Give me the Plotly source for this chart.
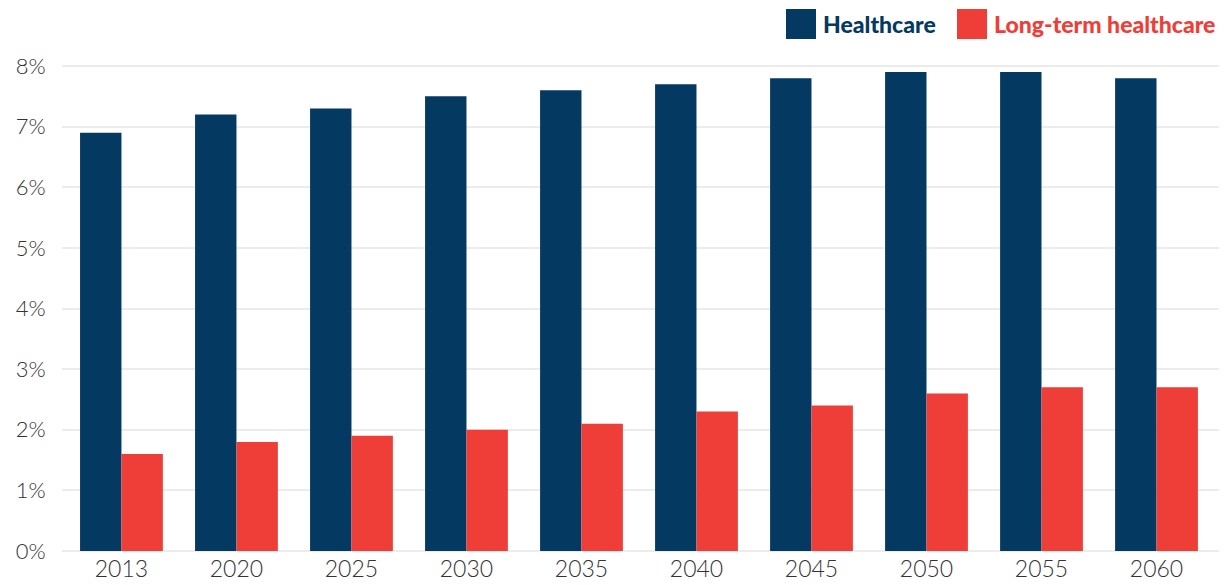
import plotly.graph_objects as go

years = ["2013", "2020", "2025", "2030", "2035", "2040", "2045", "2050", "2055", "2060"]
healthcare = [6.9, 7.2, 7.3, 7.5, 7.6, 7.7, 7.8, 7.9, 7.9, 7.8]
long_term = [1.6, 1.8, 1.9, 2.0, 2.1, 2.3, 2.4, 2.6, 2.7, 2.7]
y_ticks = [0, 1, 2, 3, 4, 5, 6, 7, 8]
y_labels = [f"{v}%" for v in y_ticks]

NAVY = "#043961"
RED = "#EE3E37"
TXT = "#333333"

# page body has an 8px default margin, so figure is 8px smaller and shifted
PLOT_L, PLOT_W = 62, 1165
PLOT_B, PLOT_H = 551, 491

fig = go.Figure()
fig.add_trace(go.Bar(x=years, y=healthcare, name="Healthcare", marker_color=NAVY,
                     marker_line_width=0, showlegend=False))
fig.add_trace(go.Bar(x=years, y=long_term, name="Long-term healthcare", marker_color=RED,
                     marker_line_width=0, showlegend=False))

# custom legend (large square swatches, coloured bold text)
legend_items = [("Healthcare", NAVY, 786), ("Long-term healthcare", RED, 957)]
for label, col, x0 in legend_items:
    fig.add_shape(type="rect", xref="paper", yref="paper",
                  x0=(x0 - PLOT_L) / PLOT_W, x1=(x0 + 30 - PLOT_L) / PLOT_W,
                  y0=(PLOT_B - 39) / PLOT_H, y1=(PLOT_B - 9) / PLOT_H,
                  fillcolor=col, line_width=0)
    fig.add_annotation(text=label, xref="paper", yref="paper",
                       x=(x0 + 35 - PLOT_L) / PLOT_W, y=(PLOT_B - 24) / PLOT_H,
                       xanchor="left", yanchor="middle", showarrow=False,
                       font=dict(family="Lato", size=23, color=col, weight=900))

fig.update_layout(
    width=1219, height=577,
    margin=dict(l=54, r=0, t=52, b=34),
    paper_bgcolor="white", plot_bgcolor="white",
    barmode="group", bargap=0.28, bargroupgap=0,
    font=dict(family="Lato", size=22, color=TXT),
    xaxis=dict(range=[-0.517, 9.613], showgrid=False, showline=False,
               ticks="", ticklabelstandoff=2,
               automargin=False,
               tickfont=dict(size=23, color=TXT, weight=300), fixedrange=True),
    yaxis=dict(range=[0, 8.1], tickvals=y_ticks, ticktext=y_labels,
               showgrid=True, gridcolor="#ececec", gridwidth=2,
               zeroline=True, zerolinecolor="#ececec", zerolinewidth=2,
               ticks="outside", ticklen=11, tickcolor="rgba(0,0,0,0)",
               automargin=False,
               tickfont=dict(size=22, color=TXT, weight=300)),
)

fig.write_html("out.html")
